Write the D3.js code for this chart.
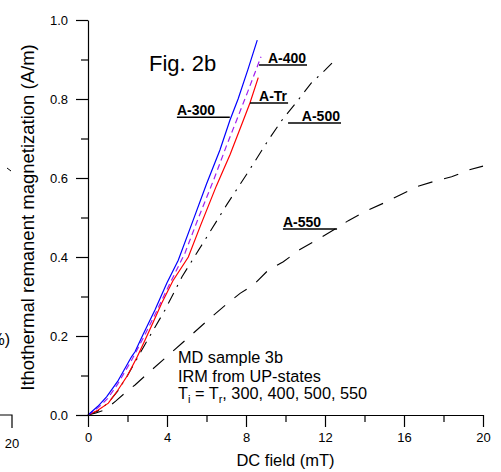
<!DOCTYPE html>
<html>
<head>
<meta charset="utf-8">
<script src="https://cdn.jsdelivr.net/npm/d3@7"></script>
<style>
  html, body { margin: 0; padding: 0; background: #fff; }
  svg { display: block; font-family: Arial, "Liberation Sans", sans-serif; }
</style>
</head>
<body>
<div class="chart"></div>
<script>
(function(){
  'use strict';

  // DC field (mT) / remanent magnetization (A/m)
  var a300X = [0, 0.5, 0.94, 1.5, 2.21, 2.38, 2.8, 3.39, 4.0, 4.57, 5.33, 6.0, 6.68, 7.19, 7.6, 8.1, 8.57];
  var a300Y = [0, 0.022, 0.046, 0.085, 0.148, 0.160, 0.205, 0.266, 0.335, 0.392, 0.494, 0.585, 0.671, 0.747, 0.80, 0.875, 0.949];

  var a400X = [0, 0.5, 1.0, 1.5, 2.2, 2.8, 3.4, 4.0, 4.91, 5.6, 6.4, 7.0, 7.53, 8.1, 8.76];
  var a400Y = [0, 0.018, 0.042, 0.078, 0.138, 0.195, 0.255, 0.318, 0.41, 0.50, 0.60, 0.68, 0.747, 0.82, 0.907];

  var aTrX = [0, 0.5, 1.03, 1.5, 2.0, 2.5, 2.89, 3.3, 3.73, 4.3, 5.08, 5.7, 6.5, 7.2, 7.87, 8.2, 8.62];
  var aTrY = [0, 0.012, 0.030, 0.062, 0.10, 0.148, 0.19, 0.235, 0.283, 0.34, 0.40, 0.48, 0.58, 0.66, 0.747, 0.79, 0.854];

  var a500X = [0, 0.5, 1.0, 1.5, 2.0, 2.9, 3.9, 4.76, 5.92, 7.02, 8.12, 9.13, 9.8, 10.57, 11.3, 12.0, 12.59];
  var a500Y = [0, 0.01, 0.03, 0.06, 0.10, 0.18, 0.266, 0.35, 0.443, 0.532, 0.616, 0.696, 0.745, 0.793, 0.84, 0.873, 0.903];

  var a550X = [0, 0.4, 0.86, 1.4, 2.04, 2.38, 3.22, 3.9, 4.74, 5.33, 6.18, 7.0, 7.70, 8.37, 9.13, 9.89, 10.73, 11.58, 12.59, 13.18, 14.03, 14.95, 15.8, 16.64, 17.49, 18.41, 19.26, 20.0];
  var a550Y = [0, 0.005, 0.013, 0.035, 0.063, 0.076, 0.114, 0.144, 0.181, 0.207, 0.245, 0.28, 0.308, 0.329, 0.367, 0.388, 0.419, 0.443, 0.473, 0.492, 0.515, 0.536, 0.557, 0.578, 0.591, 0.603, 0.620, 0.630];

  var xTicks = [0, 4, 8, 12, 16, 20];
  var xMinor = [2, 6, 10, 14, 18];
  var yTicks = [0, 0.2, 0.4, 0.6, 0.8, 1.0];
  var yMinor = [0.1, 0.3, 0.5, 0.7, 0.9];

  var noteLines = ['MD sample 3b', 'IRM from UP-states'];

  var W = 501, H = 472;
  var left = 88, right = 483, top = 20, bottom = 415;
  var font = 'Arial, "Liberation Sans", sans-serif';

  var svg = d3.select('.chart').append('svg').attr('width', W).attr('height', H);

  var x = d3.scaleLinear().domain([0, 20]).range([left, right]);
  var y = d3.scaleLinear().domain([0, 1]).range([bottom, top]);

  function pts(xs, ys){ return xs.map(function(d, i){ return [d, ys[i]]; }); }

  var series = [
    {name: 'A-550', data: pts(a550X, a550Y), color: '#000', dash: '15,12', w: 1.1},
    {name: 'A-500', data: pts(a500X, a500Y), color: '#000', dash: '12,7,2,7', w: 1.1},
    {name: 'A-Tr',  data: pts(aTrX, aTrY),   color: '#ff0000', dash: null, w: 1.2},
    {name: 'A-400', data: pts(a400X, a400Y), color: '#a020f0', dash: '6,4', w: 1.2},
    {name: 'A-300', data: pts(a300X, a300Y), color: '#0000ff', dash: null, w: 1.2}
  ];

  var line = d3.line().x(function(d){ return x(d[0]); }).y(function(d){ return y(d[1]); });

  svg.append('g').selectAll('path').data(series).enter().append('path')
    .attr('d', function(d){ return line(d.data); })
    .attr('fill', 'none')
    .attr('stroke', function(d){ return d.color; })
    .attr('stroke-width', function(d){ return d.w; })
    .attr('stroke-dasharray', function(d){ return d.dash; });

  // axes
  svg.append('g').attr('transform', 'translate(' + left + ',0)')
    .call(d3.axisLeft(y).tickValues(yTicks).tickFormat(d3.format('.1f')).tickSize(12).tickSizeOuter(0).tickPadding(8));
  svg.append('g').attr('transform', 'translate(' + left + ',0)')
    .call(d3.axisLeft(y).tickValues(yMinor).tickFormat('').tickSize(7))
    .select('.domain').remove();

  svg.append('g').attr('transform', 'translate(0,' + bottom + ')')
    .call(d3.axisBottom(x).tickValues(xTicks).tickFormat(d3.format('d')).tickSize(12).tickSizeOuter(0).tickPadding(6));
  svg.append('g').attr('transform', 'translate(0,' + bottom + ')')
    .call(d3.axisBottom(x).tickValues(xMinor).tickFormat('').tickSize(7))
    .select('.domain').remove();

  svg.selectAll('.tick text').attr('font-size', 13).attr('font-family', font).attr('fill', '#000');
  svg.selectAll('.domain, .tick line').attr('stroke', '#000').attr('stroke-width', 1.2);

  // axis titles
  svg.append('text').attr('x', (left + right) / 2).attr('y', 466)
    .attr('text-anchor', 'middle').attr('font-size', 16.5).text('DC field (mT)');
  svg.append('text').attr('transform', 'translate(34,' + ((top + bottom) / 2) + ') rotate(-90)')
    .attr('text-anchor', 'middle').attr('font-size', 18.5).text('Ithothermal remanent magnetization (A/m)');

  svg.append('text').attr('x', 149).attr('y', 71).attr('font-size', 22).text('Fig. 2b');

  // curve labels with underline leaders: [text, underline x0, x1 (mT), y (A/m), anchor]
  var labels = [
    ['A-300', 4.5, 7.18, 0.754, 'start'],
    ['A-400', 8.66, 11.09, 0.886, 'end'],
    ['A-Tr', 8.2, 10.13, 0.790, 'end'],
    ['A-500', 10.13, 12.81, 0.739, 'end'],
    ['A-550', 9.87, 12.61, 0.471, 'start']
  ];
  var lg = svg.append('g');
  labels.forEach(function(l){
    lg.append('line').attr('x1', x(l[1])).attr('x2', x(l[2]))
      .attr('y1', y(l[3])).attr('y2', y(l[3]))
      .attr('stroke', '#000').attr('stroke-width', 1.5);
    lg.append('text').attr('x', l[4] == 'start' ? x(l[1]) : x(l[2]) - 1)
      .attr('y', y(l[3]) - 2).attr('text-anchor', l[4])
      .attr('font-size', 14).attr('font-weight', 'bold').text(l[0]);
  });

  // note
  var note = svg.append('g').attr('font-size', 16.3);
  noteLines.forEach(function(t, i){
    note.append('text').attr('x', 178).attr('y', 363 + i * 19).text(t);
  });
  var t3 = note.append('text').attr('x', 178).attr('y', 399);
  t3.append('tspan').text('T');
  t3.append('tspan').attr('font-size', 11).attr('dy', 4).text('i');
  t3.append('tspan').attr('dy', -4).text(' = T');
  t3.append('tspan').attr('font-size', 11).attr('dy', 4).text('r');
  t3.append('tspan').attr('dy', -4).text(', 300, 400, 500, 550');

  // cut-off bits of the neighbouring panel at the left edge
  var edge = svg.append('g');
  edge.append('path').attr('d', 'M0,415H12V428').attr('fill', 'none').attr('stroke', '#000').attr('stroke-width', 1.2);
  edge.append('text').attr('x', 12).attr('y', 448).attr('text-anchor', 'middle').attr('font-size', 13).text('20');
  edge.append('text').attr('x', 10).attr('y', 345).attr('text-anchor', 'end').attr('font-size', 16).text('%)');
  edge.append('path').attr('d', 'M7,168L11,171').attr('stroke', '#000').attr('stroke-width', 1);

})();
</script>
</body>
</html>
